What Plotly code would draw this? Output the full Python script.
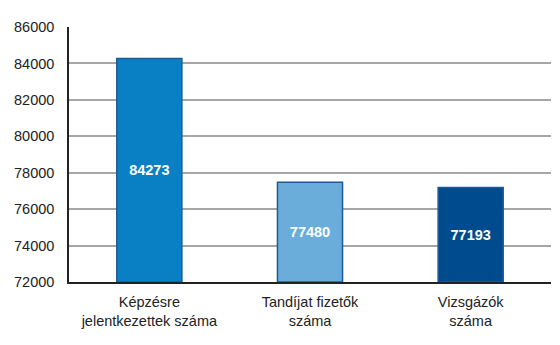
import plotly.graph_objects as go

categories = ["Képzésre<br>jelentkezettek száma", "Tandíjat fizetők<br>száma", "Vizsgázók<br>száma"]
values = [84273, 77480, 77193]
colors = ["#0a80c4", "#6aaddb", "#004b8d"]
axis_min = 72000
tick_vals = [72000, 74000, 76000, 78000, 80000, 82000, 84000, 86000]

fig = go.Figure(go.Bar(
    x=categories,
    y=[v - axis_min for v in values],
    base=[axis_min] * len(values),
    marker=dict(color=colors, line=dict(color="#1d5a99", width=1.5)),
    width=0.405,
    text=[str(v) for v in values],
    textposition="inside", insidetextanchor="middle",
    textfont=dict(family="Liberation Sans, Arial", size=14.5, color="white", weight="bold"),
    hovertext=[str(v) for v in values],
))

fig.update_layout(
    width=560, height=345,
    margin=dict(l=69, r=9, t=27, b=63),
    plot_bgcolor="white", paper_bgcolor="white",
    font=dict(family="Liberation Sans, Arial", size=14.5, color="#222"),
    showlegend=False,
    uniformtext=dict(minsize=14, mode="show"),
)
fig.update_yaxes(
    range=[72000, 86000], tickvals=tick_vals, ticktext=[str(t) for t in tick_vals],
    showgrid=True, gridcolor="#a6a6a6", gridwidth=1.5,
    showline=True, linecolor="#222", linewidth=1.5,
    ticks="outside", ticklen=0, ticklabelstandoff=10, zeroline=False,
)
fig.update_xaxes(
    showline=True, linecolor="#222", linewidth=1.5,
    ticks="outside", ticklen=0, ticklabelstandoff=6,
)
fig.write_html("out.html")
